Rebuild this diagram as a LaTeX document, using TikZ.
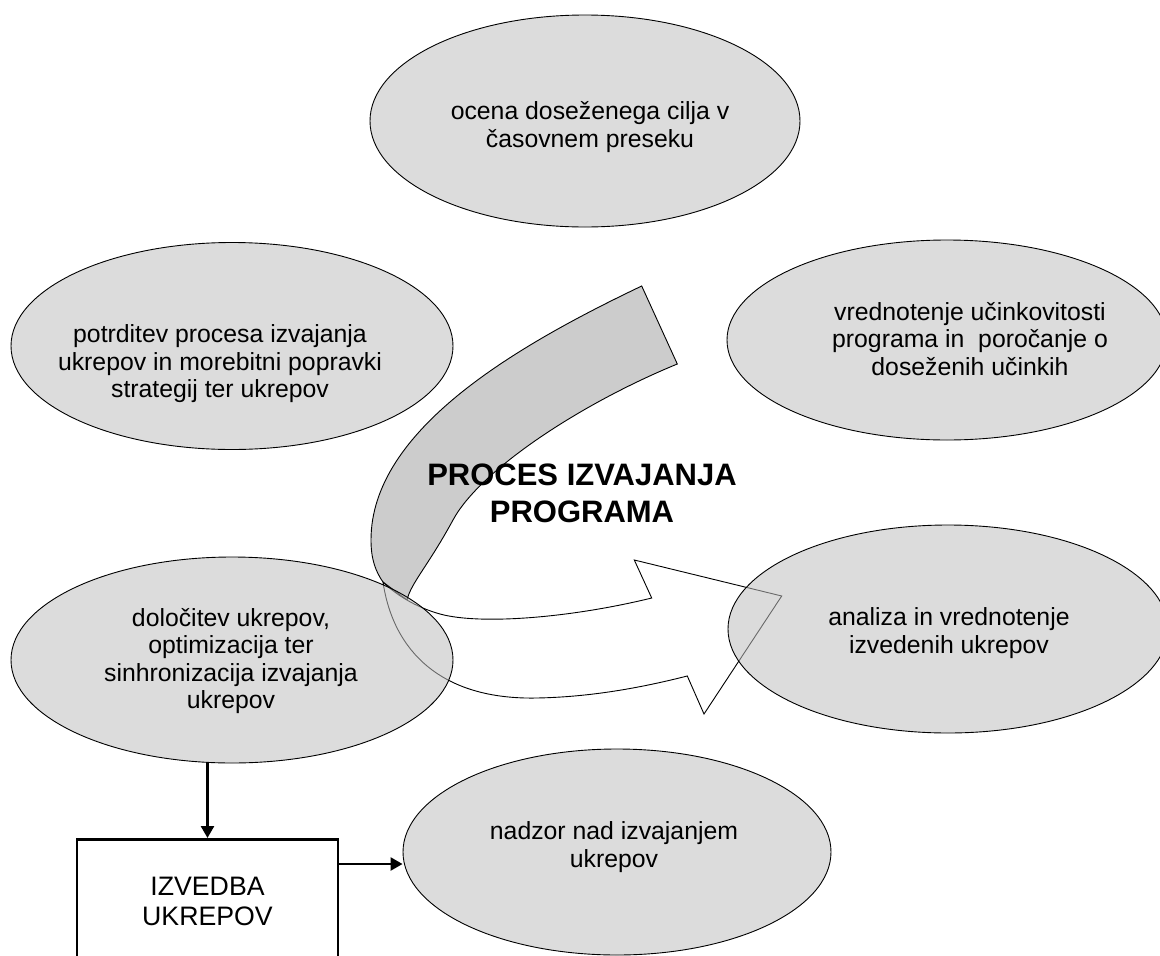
\documentclass[tikz,border=0pt]{standalone}
\usepackage{fontspec}
\setmainfont{Liberation Sans}
\usetikzlibrary{arrows.meta,calc,shapes.geometric}
\begin{document}
\begin{tikzpicture}[x=1pt,y=-1pt,
  ell/.style={ellipse, draw=black, line width=0.9pt, fill=black!25, fill opacity=0.55, inner sep=0pt},
  etext/.style={align=center, font=\fontsize{24.8}{27.5}\selectfont, text=black},
  conn/.style={line width=2.5pt, -{Triangle[length=12pt,width=13pt]}},
  boxst/.style={draw, line width=2.5pt, minimum width=261pt, minimum height=124pt, align=center, font=\fontsize{26.7}{30}\selectfont, anchor=north, fill=white},
  back/.style={draw, line width=0.9pt, fill=black!20, line join=miter},
  front/.style={draw, line width=0.9pt, fill=white, line join=miter}]
\useasboundingbox (0,0) rectangle (1160,956);
\clip (0,0) rectangle (1160,956);

% curved process arrow (back, gray)
\path[back] (641.7,286) .. controls (516,346) and (371,430) .. (371,540)
  .. controls (371,560) and (376,572) .. (383,582)
  -- (407,600) .. controls (411,583) and (428,566) .. (453,520)
  .. controls (480,470) and (580,404) .. (677.3,364) -- cycle;
% curved process arrow (front, white)
\path[front] (383,582) .. controls (393,650) and (440,700) .. (537,698)
  .. controls (590,697) and (640,688) .. (687.3,676)
  -- (704,714) -- (781.7,596) -- (634.3,560) -- (651.7,598)
  .. controls (570,618) and (480,625) .. (440,614)
  .. controls (415,607) and (395,594) .. (383,582) -- cycle;

% ellipses
\node[ell, minimum width=430pt, minimum height=212pt] (e1) at (585,121) {};
\node[ell, minimum width=442pt, minimum height=207pt] (e2) at (232,346) {};
\node[ell, minimum width=440pt, minimum height=200pt] (e3) at (947,340) {};
\node[ell, minimum width=442pt, minimum height=206pt] (e4) at (232,660) {};
\node[ell, minimum width=440pt, minimum height=208pt] (e5) at (948,629) {};
\node[ell, minimum width=428pt, minimum height=206pt] (e6) at (617,852) {};

% ellipse texts
\node[etext] (t1) at (590,127) {ocena doseženega cilja v\\časovnem preseku};
\node[etext] (t2) at (220,364) {potrditev procesa izvajanja\\ukrepov in morebitni popravki\\strategij ter ukrepov};
\node[etext] (t3) at (970,339) {vrednotenje učinkovitosti\\programa in \ poročanje o\\doseženih učinkih};
\node[etext] (t4) at (231,661) {določitev ukrepov,\\optimizacija ter\\sinhronizacija izvajanja\\ukrepov};
\node[etext] (t5) at (949,633) {analiza in vrednotenje\\izvedenih ukrepov};
\node[etext] (t6) at (614,847) {nadzor nad izvajanjem\\ukrepov};

% title
\node[font=\bfseries\fontsize{31}{37}\selectfont, align=center] (title) at (582,493) {PROCES IZVAJANJA\\PROGRAMA};

% box
\node[boxst] (box) at (207.5,838) {IZVEDBA\\UKREPOV};

% connectors
\draw[conn] (box.north |- e4.south) -- (box.north);
\path (box.north east) ++(0,26) coordinate (b1);
\draw[conn] (b1) -- (b1 -| e6.west);
\end{tikzpicture}
\end{document}
